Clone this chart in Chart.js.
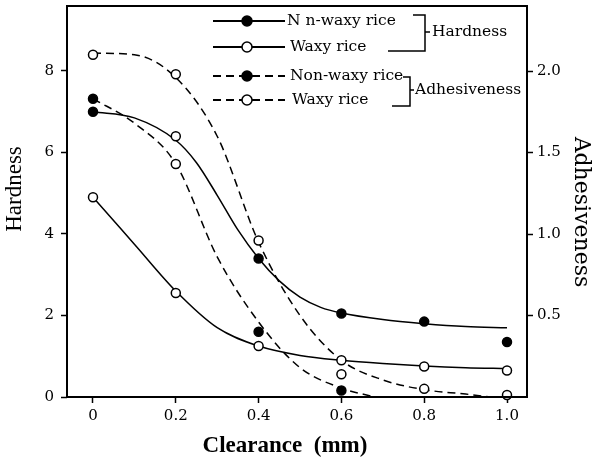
<!DOCTYPE html>
<html><head><meta charset="utf-8">
<script src="https://cdn.jsdelivr.net/npm/chart.js@4/dist/chart.umd.min.js"></script>
<style>html,body{margin:0;padding:0;background:#fff}canvas{display:block}</style>
</head><body>
<canvas id="c" width="593" height="463"></canvas>
<script>
// measured points
const clearance = [0, 0.2, 0.4, 0.6, 0.8, 1.0];
const hardnessNonWaxy = [7.0, 6.4, 3.4, 2.05, 1.85, 1.35];
const hardnessWaxy = [4.9, 2.55, 1.25, 0.9, 0.75, 0.65];
const adhesNonWaxy = [1.83, 1.43, 0.40, 0.04];
const adhesWaxy = [2.10, 1.98, 0.96, 0.14, 0.05, 0.012];

// fitted curves
const hardnessNonWaxyCurveX = [0, 0.1, 0.2, 0.25, 0.3, 0.35, 0.4, 0.45, 0.5, 0.55, 0.6, 0.7, 0.8, 0.9, 1.0];
const hardnessNonWaxyCurve = [7.0, 6.85, 6.3, 5.75, 4.95, 4.1, 3.4, 2.85, 2.45, 2.2, 2.06, 1.9, 1.8, 1.73, 1.7];
const hardnessWaxyCurveX = [0, 0.1, 0.2, 0.3, 0.4, 0.5, 0.6, 0.7, 0.8, 0.9, 1.0];
const hardnessWaxyCurve = [4.9, 3.75, 2.6, 1.7, 1.25, 1.02, 0.9, 0.82, 0.76, 0.72, 0.7];
const adhesNonWaxyCurveX = [0, 0.1, 0.2, 0.3, 0.4, 0.5, 0.6, 0.68];
const adhesNonWaxyCurve = [1.83, 1.68, 1.43, 0.86, 0.46, 0.18, 0.055, 0];
const adhesWaxyCurveX = [0, 0.1, 0.2, 0.3, 0.4, 0.5, 0.6, 0.7, 0.8, 0.9, 0.96];
const adhesWaxyCurve = [2.11, 2.10, 1.96, 1.6, 0.95, 0.5, 0.225, 0.105, 0.045, 0.018, 0];

// tick labels
const xTicks = [0, 0.2, 0.4, 0.6, 0.8, 1.0];
const hardnessTicks = [0, 2, 4, 6, 8];
const adhesTicks = [0.5, 1.0, 1.5, 2.0];

// texts
const legendLabels = ['N n-waxy rice', 'Waxy rice', 'Non-waxy rice', 'Waxy rice'];
const groupLabels = ['Hardness', 'Adhesiveness'];
const xTitle = 'Clearance  (mm)';
const yLeftTitle = 'Hardness';
const yRightTitle = 'Adhesiveness';

const pts = (xs, ys) => ys.map((y, i) => ({x: xs[i], y}));
const DASH = [8, 5];

const pointSet = (label, xs, ys, fills, axis) => ({
  label, data: pts(xs, ys), yAxisID: axis, showLine: false,
  pointRadius: 4.5, pointHoverRadius: 4.5, pointBorderWidth: 1.5,
  pointBorderColor: '#000', pointBackgroundColor: fills, clip: false, order: 0
});
const curveSet = (label, xs, ys, axis, dash) => ({
  label, data: pts(xs, ys), yAxisID: axis, showLine: true, pointRadius: 0,
  borderColor: '#000', borderWidth: 1.5, borderDash: dash, fill: false,
  cubicInterpolationMode: 'monotone', order: 1
});

const W = '#fff', B = '#000';

const framePlugin = {
  id: 'frame',
  afterDraw(chart) {
    const {ctx, chartArea: a} = chart;
    ctx.save();
    ctx.strokeStyle = '#000'; ctx.lineWidth = 2;
    ctx.strokeRect(a.left, a.top, a.right - a.left, a.bottom - a.top);
    // titles
    ctx.fillStyle = '#000';
    ctx.textAlign = 'center'; ctx.textBaseline = 'middle';
    ctx.font = '23px "Liberation Serif"';
    ctx.save(); ctx.translate(15, 189); ctx.rotate(-Math.PI / 2);
    ctx.fillText(yLeftTitle, 0, 0); ctx.restore();
    ctx.font = '22px "DejaVu Serif"';
    ctx.save(); ctx.translate(581, 212); ctx.rotate(Math.PI / 2);
    ctx.fillText(yRightTitle, 0, 0); ctx.restore();
    ctx.font = 'bold 23px "Liberation Serif"';
    ctx.fillText(xTitle, 285, 446);

    // legend
    const rows = [
      {y: 21, dash: [], fill: B, tx: 287},
      {y: 47, dash: [], fill: W, tx: 290},
      {y: 76, dash: DASH, fill: B, tx: 290},
      {y: 100, dash: DASH, fill: W, tx: 292}
    ];
    ctx.font = '15.5px "DejaVu Serif"';
    ctx.textAlign = 'left';
    rows.forEach((r, i) => {
      ctx.lineWidth = 1.8; ctx.setLineDash(r.dash);
      ctx.beginPath(); ctx.moveTo(213, r.y); ctx.lineTo(285, r.y); ctx.stroke();
      ctx.setLineDash([]);
      ctx.beginPath(); ctx.arc(247, r.y, 5, 0, Math.PI * 2);
      ctx.fillStyle = r.fill; ctx.fill(); ctx.lineWidth = 1.5; ctx.stroke();
      ctx.fillStyle = '#000';
      ctx.fillText(legendLabels[i], r.tx, r.y);
    });
    ctx.lineWidth = 1.5;
    // bracket 1
    ctx.beginPath();
    ctx.moveTo(413, 15); ctx.lineTo(425, 15); ctx.lineTo(425, 51); ctx.lineTo(388, 51);
    ctx.moveTo(425, 32); ctx.lineTo(430, 32);
    ctx.stroke();
    ctx.fillText(groupLabels[0], 432, 32);
    // bracket 2
    ctx.beginPath();
    ctx.moveTo(403, 77); ctx.lineTo(410, 77); ctx.lineTo(410, 106); ctx.lineTo(392, 106);
    ctx.moveTo(410, 90); ctx.lineTo(414, 90);
    ctx.stroke();
    ctx.fillText(groupLabels[1], 415, 90);
    ctx.restore();
  }
};

const tickFont = {family: 'DejaVu Serif', size: 15};
const gridOpts = {drawOnChartArea: false, drawTicks: true, tickLength: 6, tickColor: '#000', tickWidth: 1.5};
const noPad = s => { s.paddingTop = 0; s.paddingBottom = 0; s.paddingLeft = 0; s.paddingRight = 0; };

new Chart(document.getElementById('c'), {
  type: 'scatter',
  data: {
    datasets: [
      pointSet('Non-waxy hardness', clearance, hardnessNonWaxy, [B, W, B, B, B, B], 'yH'),
      pointSet('Waxy hardness', clearance, hardnessWaxy, W, 'yH'),
      pointSet('Non-waxy adhesiveness', clearance, adhesNonWaxy, [B, W, B, B], 'yA'),
      pointSet('Waxy adhesiveness', clearance, adhesWaxy, W, 'yA'),
      curveSet('Non-waxy hardness fit', hardnessNonWaxyCurveX, hardnessNonWaxyCurve, 'yH', []),
      curveSet('Waxy hardness fit', hardnessWaxyCurveX, hardnessWaxyCurve, 'yH', []),
      curveSet('Non-waxy adhesiveness fit', adhesNonWaxyCurveX, adhesNonWaxyCurve, 'yA', DASH),
      curveSet('Waxy adhesiveness fit', adhesWaxyCurveX, adhesWaxyCurve, 'yA', DASH)
    ]
  },
  options: {
    responsive: false, animation: false, devicePixelRatio: 1,
    layout: {padding: {top: 6, left: 0, right: 0, bottom: 0}},
    plugins: {legend: {display: false}, tooltip: {enabled: false}},
    scales: {
      x: {
        type: 'linear', position: 'bottom', min: -0.0628, max: 1.0483,
        afterBuildTicks: s => { s.ticks = xTicks.map(v => ({value: v})); },
        afterFit: s => { s.height = 66; noPad(s); },
        ticks: {font: tickFont, color: '#000', padding: 4, maxRotation: 0,
          callback: v => v === 0 ? '0' : Number(v).toFixed(1)},
        grid: gridOpts, border: {display: false}
      },
      yH: {
        type: 'linear', position: 'left', min: 0, max: 9.595,
        afterBuildTicks: s => { s.ticks = hardnessTicks.map(v => ({value: v})); },
        afterFit: s => { s.width = 67; noPad(s); },
        ticks: {font: tickFont, color: '#000', padding: 7, callback: v => String(v)},
        grid: gridOpts, border: {display: false}
      },
      yA: {
        type: 'linear', position: 'right', min: 0, max: 2.399,
        afterBuildTicks: s => { s.ticks = adhesTicks.map(v => ({value: v})); },
        afterFit: s => { s.width = 66; noPad(s); },
        ticks: {font: tickFont, color: '#000', padding: 4, callback: v => Number(v).toFixed(1)},
        grid: gridOpts, border: {display: false}
      }
    }
  },
  plugins: [framePlugin]
});
</script>
</body></html>
